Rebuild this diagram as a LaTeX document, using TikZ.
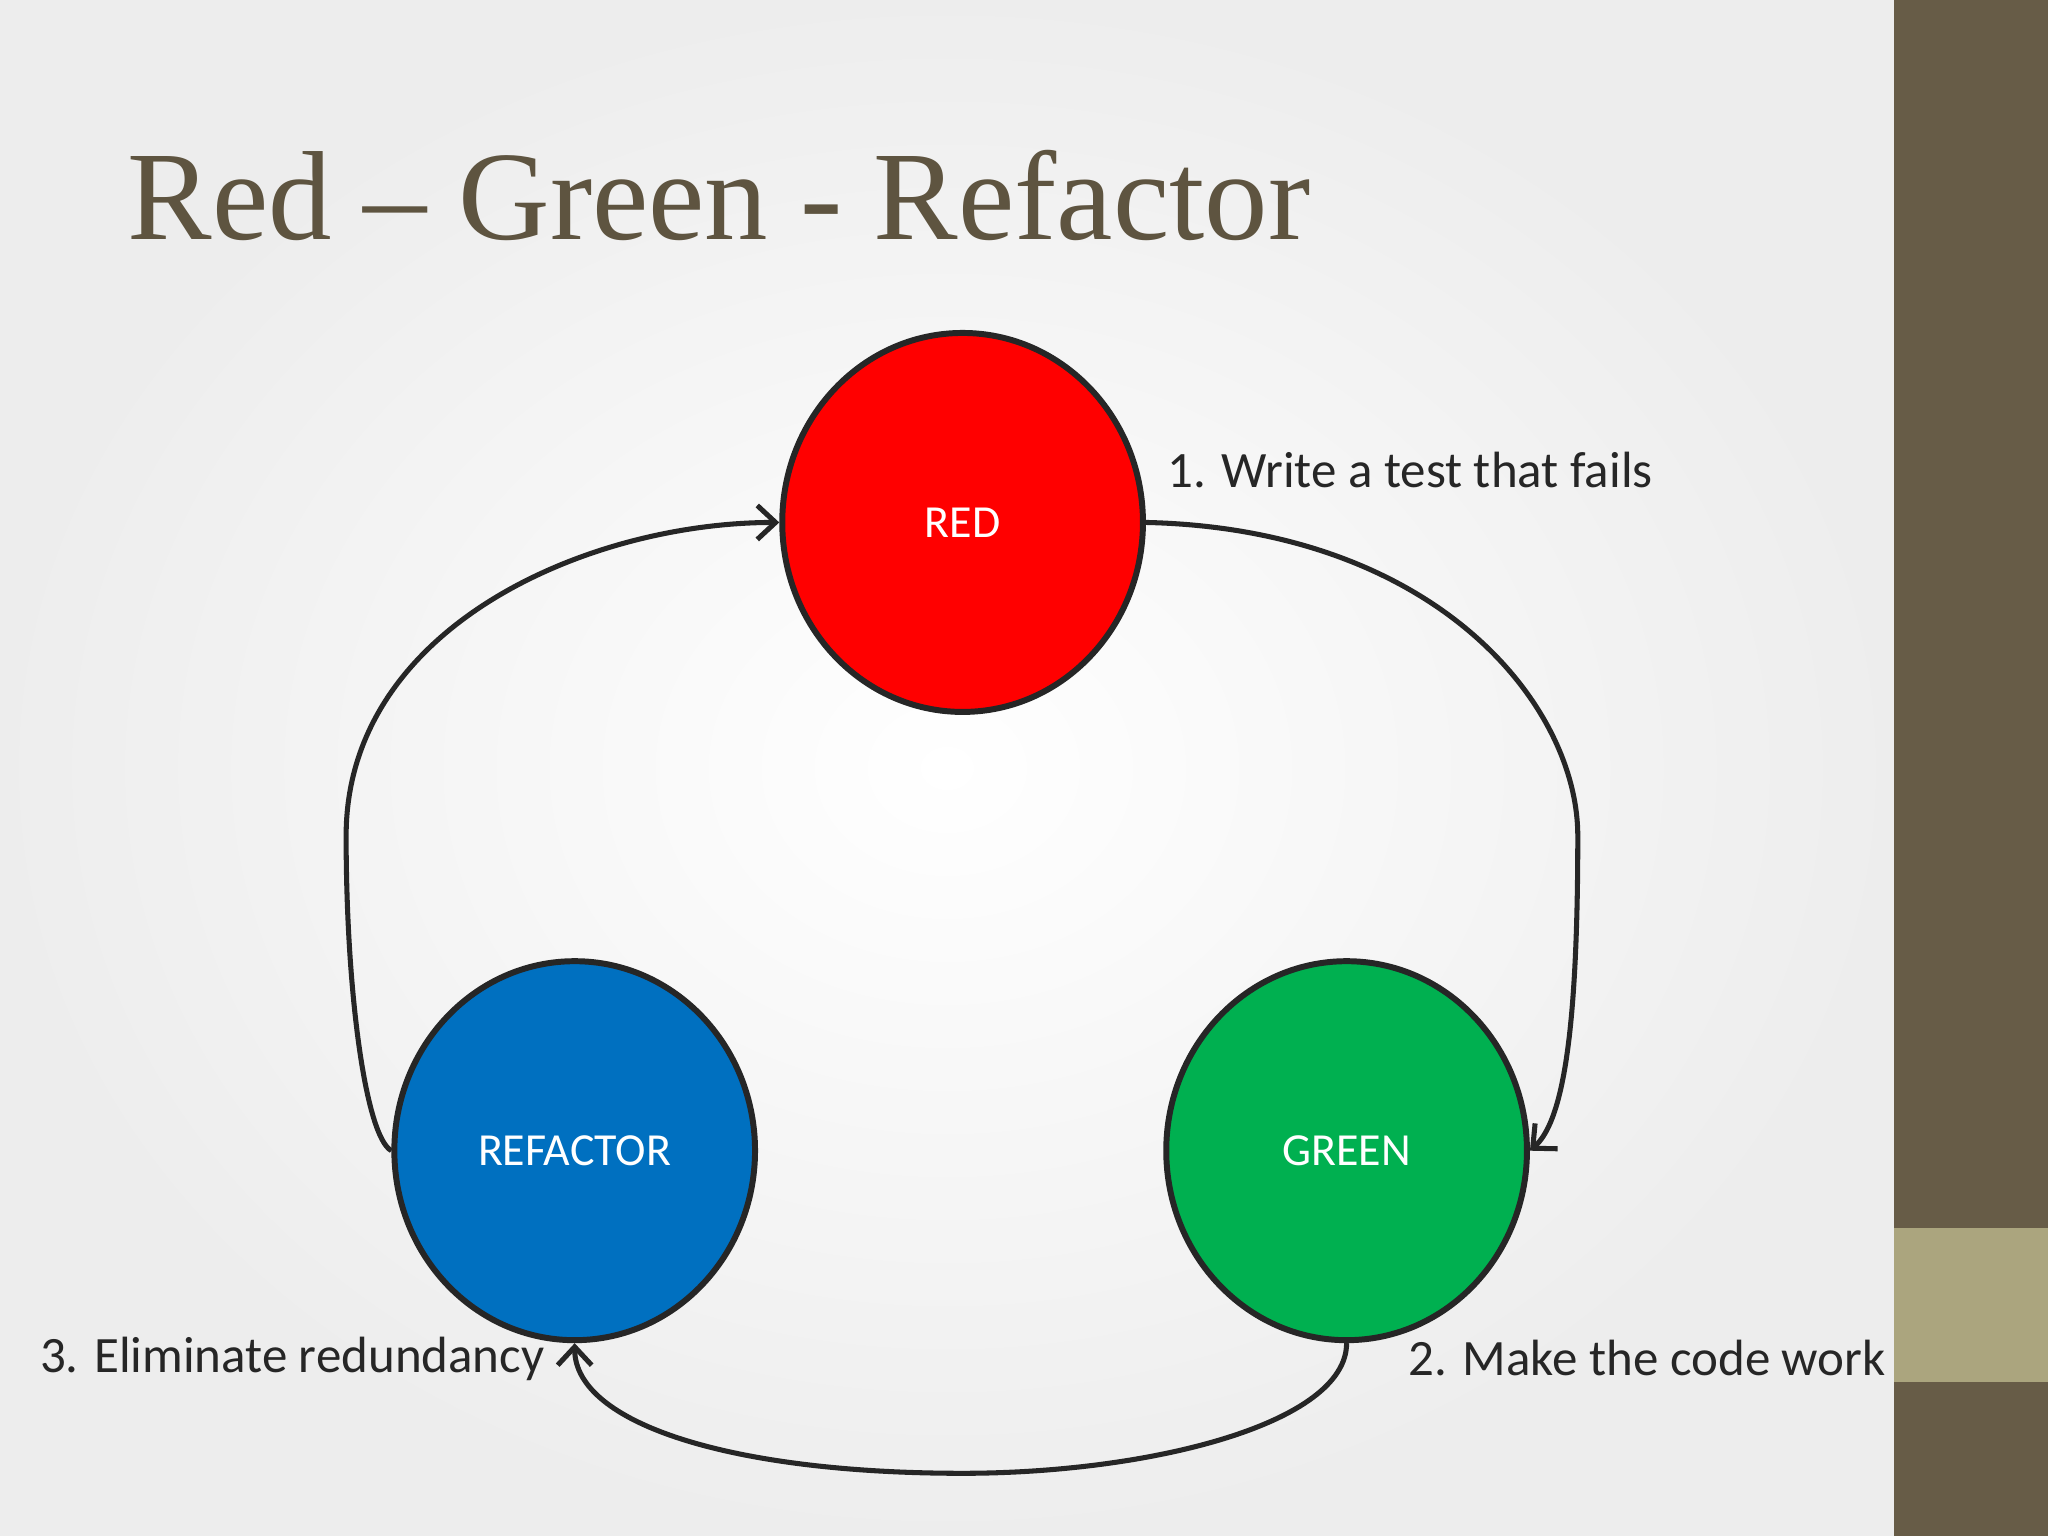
\documentclass[tikz,border=0pt]{standalone}
\usepackage{fontspec}
\setmainfont{Carlito}
\newfontfamily\titlefont{Liberation Serif}
\usetikzlibrary{shapes.geometric,arrows.meta}
\definecolor{titlec}{HTML}{5E5440}
\definecolor{barc}{HTML}{675C47}
\definecolor{bandc}{HTML}{ABA57E}
\definecolor{redc}{HTML}{FF0000}
\definecolor{greenc}{HTML}{00B050}
\definecolor{bluec}{HTML}{0070C0}
\tikzset{
 circ/.style={ellipse,draw=black!85,line width=1.3pt,minimum width=2.76cm,minimum height=2.9cm,text=white,font=\fontsize{10pt}{12pt}\selectfont},
 conn/.style={draw=black!85,line width=1.1pt,-{Straight Barb[length=1.4mm,width=2.6mm]}},
 lbl/.style={font=\fontsize{11.1pt}{13pt}\selectfont,text=black!85}
}
\begin{document}
\begin{tikzpicture}[x=0.01cm,y=-0.01cm]
\useasboundingbox (0,0) rectangle (1568,1176);
\shade[inner color=white,outer color=black!7] (0,0) rectangle (1450,1176);
\fill[barc] (1450,0) rectangle (1568,1176);
\fill[bandc] (1450,940) rectangle (1568,1058);
\node[anchor=base west,inner sep=0,text=titlec,font=\titlefont\fontsize{27.6pt}{30pt}\selectfont] (title) at (97,183) {Red – Green - Refactor};
\node[circ,fill=redc] (red) at (737,400) {RED};
\node[circ,fill=bluec] (ref) at (440,881) {REFACTOR};
\node[circ,fill=greenc] (grn) at (1031,881) {GREEN};
\node[lbl,anchor=base west,inner sep=0] (l1) at (893,373) {1. Write a test that fails};
\node[lbl,anchor=base west,inner sep=0] (l2) at (1078,1053) {2. Make the code work};
\node[lbl,anchor=base west,inner sep=0] (l3) at (30,1051) {3. Eliminate redundancy};
\draw[conn] (red.east) .. controls (1100,405) and (1208,540) .. (1208,640) .. controls (1208,800) and (1195,860) .. (grn.east);
\draw[conn] (grn.south) .. controls (1031,1090) and (880,1128) .. (737,1128) .. controls (560,1128) and (440,1090) .. (ref.south);
\draw[conn] (ref.west) .. controls (280,870) and (265,760) .. (265,640) .. controls (265,480) and (450,400) .. (red.west);
\end{tikzpicture}
\end{document}
